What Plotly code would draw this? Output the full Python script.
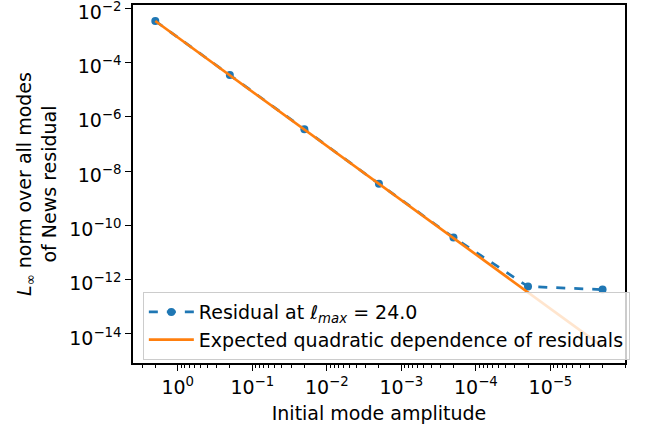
import plotly.graph_objects as go

amplitude = [2, 0.2, 0.02, 2e-3, 2e-4, 2e-5, 2e-6]
residual = [3.4e-3, 3.5e-5, 3.5e-7, 3.4e-9, 3.6e-11, 5.6e-13, 4.3e-13]
expected = [3.4e-3, 3.4e-5, 3.4e-7, 3.4e-9, 3.4e-11, 3.4e-13, 3.4e-15]

x_tickvals = [1, 1e-1, 1e-2, 1e-3, 1e-4, 1e-5]
x_ticktext = ["10<sup>0</sup>", "10<sup>\u22121</sup>", "10<sup>\u22122</sup>",
              "10<sup>\u22123</sup>", "10<sup>\u22124</sup>", "10<sup>\u22125</sup>"]
y_tickvals = [1e-2, 1e-4, 1e-6, 1e-8, 1e-10, 1e-12, 1e-14]
y_ticktext = ["10<sup>\u22122</sup>", "10<sup>\u22124</sup>", "10<sup>\u22126</sup>",
              "10<sup>\u22128</sup>", "10<sup>\u221210</sup>", "10<sup>\u221212</sup>",
              "10<sup>\u221214</sup>"]

FONT = "DejaVu Sans"
FS = 19

fig = go.Figure()
fig.add_trace(go.Scatter(
    x=amplitude, y=residual, mode="lines+markers",
    name="Residual at <i>\u2113</i><sub><i>max</i></sub> = 24.0",
    legendgroup="a",
    line=dict(color="#1f77b4", width=2.7, dash="dash"),
    marker=dict(color="#1f77b4", size=8),
))
fig.add_trace(go.Scatter(
    x=amplitude, y=expected, mode="lines",
    name="Expected quadratic dependence of residuals",
    legendgroup="b",
    line=dict(color="#ff7f0e", width=2.7),
))

fig.update_layout(
    width=646, height=434,
    margin=dict(l=133, r=21, t=5, b=71),
    plot_bgcolor="white", paper_bgcolor="white",
    font=dict(family=FONT, size=FS, color="black"),
    showlegend=True,
    legend=dict(
        x=0.02, y=0.198, xanchor="left", yanchor="top",
        bgcolor="rgba(255,255,255,0.8)", bordercolor="#cccccc", borderwidth=1,
        font=dict(family=FONT, size=FS, color="black"),
        tracegroupgap=0, itemwidth=45,
    ),
)
fig.update_xaxes(
    type="log", range=[0.6, -6.0], automargin=False,
    tickvals=x_tickvals, ticktext=x_ticktext,
    ticks="outside", ticklen=6, tickwidth=1.3, tickcolor="black",
    showline=True, linecolor="black", linewidth=1.5, mirror=True,
    showgrid=False, zeroline=False, ticklabeloverflow="allow",
    minor=dict(ticks="outside", ticklen=3.5, tickwidth=1, tickcolor="black", dtick="D1", showgrid=False),
    title=dict(text="Initial mode amplitude", standoff=10, font=dict(family=FONT, size=FS)),
    tickfont=dict(family=FONT, size=FS),
)
fig.update_yaxes(
    type="log", range=[-15.07, -1.88], automargin=False,
    tickvals=y_tickvals, ticktext=y_ticktext,
    ticks="outside", ticklen=6, tickwidth=1.3, tickcolor="black",
    showline=True, linecolor="black", linewidth=1.5, mirror=True,
    showgrid=False, zeroline=False, ticklabeloverflow="allow",
    ticklabelshift=4,
    title=dict(text="<i>L</i><sub>\u221e</sub> norm over all modes<br>of News residual",
               standoff=8, font=dict(family=FONT, size=FS)),
    tickfont=dict(family=FONT, size=FS),
)

fig.write_html("out.html")
